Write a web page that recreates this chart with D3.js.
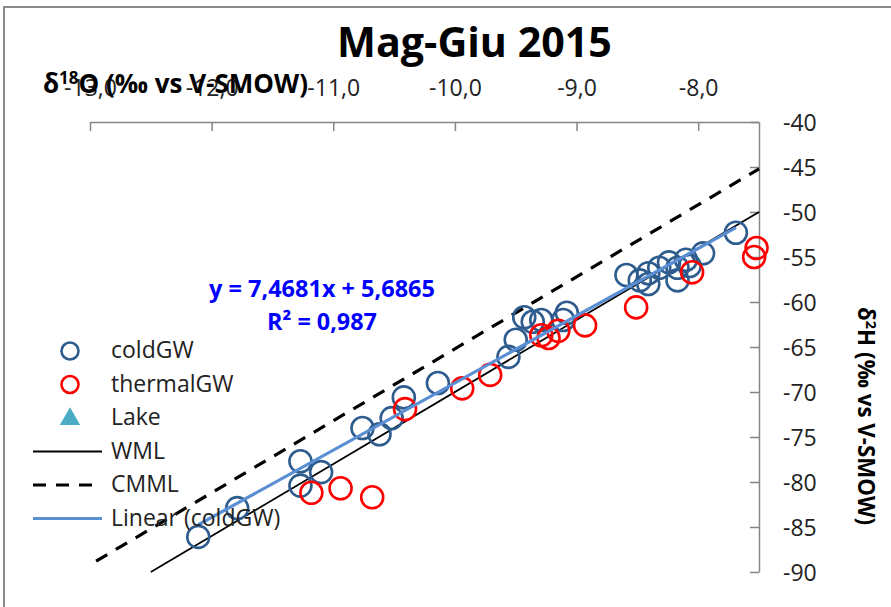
<!DOCTYPE html>
<html>
<head>
<meta charset="utf-8">
<script src="https://cdn.jsdelivr.net/npm/d3@7"></script>
<style>
  body { margin: 0; background: #fff; }
  svg { display: block; font-family: 'Open Sans', sans-serif; }
</style>
</head>
<body>
<div id="chart"></div>
<script>
// values
const coldX = [-12.11, -11.79, -11.27, -11.27, -11.10, -10.76, -10.62, -10.52, -10.42, -10.14,
               -9.56, -9.50, -9.43, -9.36, -9.29, -9.08, -9.11, -8.59, -8.48, -8.41,
               -8.41, -8.32, -8.24, -8.17, -8.17, -8.10, -8.07, -7.96, -7.69];
const coldY = [-86.1, -82.9, -77.7, -80.4, -78.9, -74.0, -74.7, -72.9, -70.6, -69.0,
               -66.1, -64.2, -61.7, -62.2, -62.0, -61.2, -62.0, -57.0, -57.6, -56.8,
               -58.0, -56.2, -55.6, -56.2, -57.6, -55.3, -56.0, -54.6, -52.3];
const thermalX = [-11.18, -10.94, -10.68, -10.41, -9.94, -9.71, -9.29, -9.23, -9.15, -8.93,
                  -8.51, -8.05, -7.52, -7.54];
const thermalY = [-81.2, -80.7, -81.7, -71.9, -69.6, -68.1, -63.7, -64.0, -63.2, -62.6,
                  -60.6, -56.7, -54.0, -55.0];
const lakeX = [];
const lakeY = [];
const wmlX = [-12.5, -7.5];
const wmlY = [-90, -50];
const cmmlX = [-12.95, -7.5];
const cmmlY = [-88.8, -45.2];
// trendline of coldGW, as printed on the chart
const trendSlope = 7.4681;
const trendIntercept = 5.6865;
const equationLines = ['y = 7,4681x + 5,6865', 'R² = 0,987'];

const xTicks = [-13, -12, -11, -10, -9, -8];
const yTicks = [-40, -45, -50, -55, -60, -65, -70, -75, -80, -85, -90];
const legendNames = ['coldGW', 'thermalGW', 'Lake', 'WML', 'CMML', 'Linear (coldGW)'];

const width = 891, height = 607;
const COLD = '#2E5C8E', THERMAL = '#FF0000', LAKE = '#4BACC6', TREND = '#5B8FD4', AXIS = '#868686';

const svg = d3.select('#chart').append('svg')
    .attr('width', width)
    .attr('height', height);

// chart border
svg.append('rect')
    .attr('x', 4).attr('y', 7)
    .attr('width', 920).attr('height', 700)
    .attr('fill', '#fff')
    .attr('stroke', '#8a8a8a')
    .attr('stroke-width', 2);

const x = d3.scaleLinear().domain([-13, -7.5]).range([90, 759]);
const y = d3.scaleLinear().domain([-90, -40]).range([572, 122]);

// scale font-size so text spans a given width
function fit(text, w) {
    const len = text.node().getComputedTextLength();
    const fs = parseFloat(text.style('font-size'));
    text.style('font-size', (fs * w / len) + 'px');
}

// axes
const xAxis = svg.append('g')
    .attr('transform', `translate(0,${y(-40)})`)
    .call(d3.axisTop(x)
        .tickValues(xTicks)
        .tickSizeInner(-9)
        .tickSizeOuter(0)
        .tickPadding(26)
        .tickFormat(d => d.toFixed(1).replace('.', ',')));

const yAxis = svg.append('g')
    .attr('transform', `translate(${x(-7.5)},0)`)
    .call(d3.axisRight(y)
        .tickValues(yTicks)
        .tickSizeInner(-9)
        .tickSizeOuter(0)
        .tickPadding(24)
        .tickFormat(d => String(d)));

svg.selectAll('.domain, .tick line')
    .attr('stroke', AXIS)
    .attr('stroke-width', 1.5);
svg.selectAll('.tick text')
    .attr('fill', '#222')
    .style('font-family', "'Open Sans', sans-serif")
    .style('font-size', '23px');
yAxis.selectAll('.tick text').attr('dy', '0.38em');

// reference lines
const line = d3.line().x(d => x(d[0])).y(d => y(d[1]));

svg.append('path')
    .datum(d3.zip(wmlX, wmlY))
    .attr('d', line)
    .attr('fill', 'none')
    .attr('stroke', '#000')
    .attr('stroke-width', 1.8);

svg.append('path')
    .datum(d3.zip(cmmlX, cmmlY))
    .attr('d', line)
    .attr('fill', 'none')
    .attr('stroke', '#000')
    .attr('stroke-width', 3.2)
    .attr('stroke-dasharray', '13,10');

// points
svg.append('g').selectAll('circle')
    .data(d3.zip(coldX, coldY))
    .join('circle')
    .attr('cx', d => x(d[0]))
    .attr('cy', d => y(d[1]))
    .attr('r', 11)
    .attr('fill', 'none')
    .attr('stroke', COLD)
    .attr('stroke-width', 2.6);

svg.append('g').selectAll('circle')
    .data(d3.zip(thermalX, thermalY))
    .join('circle')
    .attr('cx', d => x(d[0]))
    .attr('cy', d => y(d[1]))
    .attr('r', 11)
    .attr('fill', 'none')
    .attr('stroke', THERMAL)
    .attr('stroke-width', 2.6);

const tri = d3.symbol().type(d3.symbolTriangle).size(180);
svg.append('g').selectAll('path')
    .data(d3.zip(lakeX, lakeY))
    .join('path')
    .attr('transform', d => `translate(${x(d[0])},${y(d[1])})`)
    .attr('d', tri)
    .attr('fill', LAKE);

// linear trend of coldGW
const trendX = d3.extent(coldX);
svg.append('path')
    .datum(trendX.map(v => [v, trendSlope * v + trendIntercept]))
    .attr('d', line)
    .attr('fill', 'none')
    .attr('stroke', TREND)
    .attr('stroke-width', 3.2);

// equation label
const eqBase = [297, 330];
const eqWidth = [226, 110];
equationLines.forEach((t, i) => {
    const txt = svg.append('text')
        .attr('x', 322)
        .attr('y', eqBase[i])
        .attr('text-anchor', 'middle')
        .attr('fill', '#0000FF')
        .style('font-weight', 'bold')
        .style('font-size', '20px')
        .text(t);
    fit(txt, eqWidth[i]);
});

// legend
const lg = svg.append('g');
legendNames.forEach((name, i) => {
    const cy = 351 + i * 33.5;
    if (i === 0 || i === 1) {
        lg.append('circle')
            .attr('cx', 70).attr('cy', cy).attr('r', 8.5)
            .attr('fill', 'none')
            .attr('stroke', i === 0 ? COLD : THERMAL)
            .attr('stroke-width', 2.6);
    } else if (i === 2) {
        lg.append('path')
            .attr('transform', `translate(70,${cy + 1})`)
            .attr('d', tri)
            .attr('fill', LAKE);
    } else {
        lg.append('line')
            .attr('x1', 33).attr('x2', 102)
            .attr('y1', cy).attr('y2', cy)
            .attr('stroke', i === 5 ? TREND : '#000')
            .attr('stroke-width', i === 3 ? 1.8 : 3.2)
            .attr('stroke-dasharray', i === 4 ? '13,10' : null);
    }
    lg.append('text')
        .attr('x', 111)
        .attr('y', cy + 7)
        .attr('fill', '#222')
        .style('font-size', '23px')
        .text(name);
});

// title
const title = svg.append('text')
    .attr('x', 474.5)
    .attr('y', 57)
    .attr('text-anchor', 'middle')
    .style('font-weight', 'bold')
    .style('font-size', '40px')
    .text('Mag-Giu 2015');
fit(title, 275);

// x axis title
const xt = svg.append('text')
    .attr('x', 43)
    .attr('y', 93)
    .style('font-weight', 'bold')
    .style('font-size', '20px');
xt.append('tspan').text('δ');
xt.append('tspan').attr('font-size', '0.65em').attr('dy', '-0.55em').text('18');
xt.append('tspan').attr('dy', '0.3575em').text('O (‰ vs V-SMOW)');
fit(xt, 265);

// y axis title, rotated
const yt = svg.append('text')
    .attr('transform', 'translate(858,416) rotate(90)')
    .attr('text-anchor', 'middle')
    .style('font-weight', 'bold')
    .style('font-size', '20px');
yt.append('tspan').text('δ');
yt.append('tspan').attr('font-size', '0.65em').attr('dy', '-0.55em').text('2');
yt.append('tspan').attr('dy', '0.3575em').text('H (‰ vs V-SMOW)');
fit(yt, 218);
</script>
</body>
</html>
